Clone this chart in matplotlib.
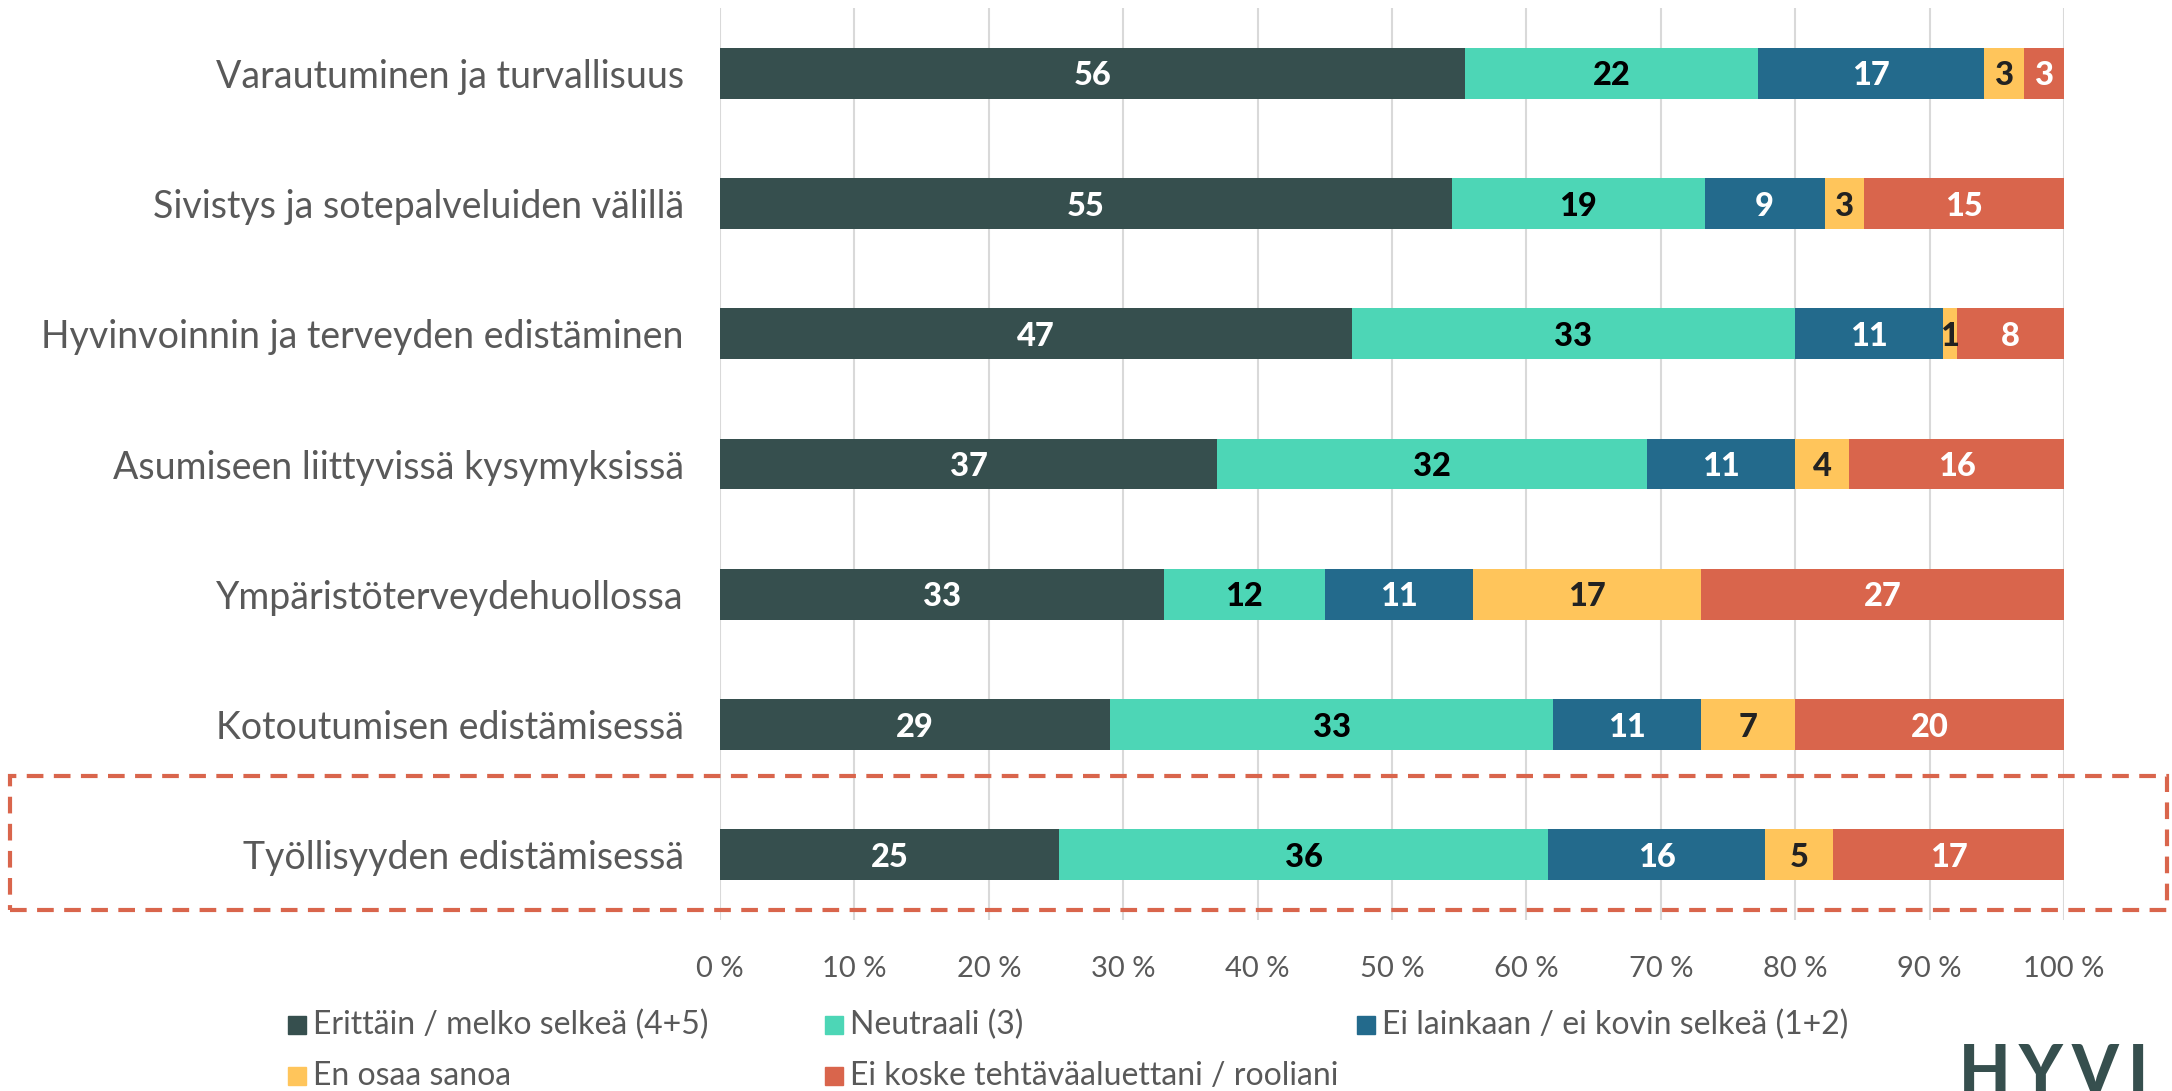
import matplotlib
matplotlib.use("Agg")
import matplotlib.pyplot as plt
from matplotlib.patches import Rectangle
import numpy as np

# categories top -> bottom
categories = [
    "Varautuminen ja turvallisuus",
    "Sivistys ja sotepalveluiden välillä",
    "Hyvinvoinnin ja terveyden edistäminen",
    "Asumiseen liittyvissä kysymyksissä",
    "Ympäristöterveydehuollossa",
    "Kotoutumisen edistämisessä",
    "Työllisyyden edistämisessä",
]

series_names = [
    "Erittäin / melko selkeä (4+5)",
    "Neutraali (3)",
    "Ei lainkaan / ei kovin selkeä (1+2)",
    "En osaa sanoa",
    "Ei koske tehtäväaluettani / rooliani",
]

selkea = [56, 55, 47, 37, 33, 29, 25]
neutraali = [22, 19, 33, 32, 12, 33, 36]
ei_selkea = [17, 9, 11, 11, 11, 11, 16]
eos = [3, 3, 1, 4, 17, 7, 5]
ei_koske = [3, 15, 8, 16, 27, 20, 17]

colors = ["#364F4E", "#4DD6B6", "#236A8C", "#FFC55B", "#D9654C"]
label_colors = ["white", "black", "white", "#222222", "white"]

ticks = np.arange(0, 101, 10)
tick_labels = [f"{t} %" for t in ticks]

text_gray = "#595959"
font = "Lato"

data = np.array([selkea, neutraali, ei_selkea, eos, ei_koske], dtype=float)
shares = data / data.sum(axis=0) * 100

fig = plt.figure(figsize=(21.72, 10.91), dpi=100)
ax = fig.add_axes([0.3315, 0.1567, 0.6188, 0.836])

y = np.arange(len(categories))
left = np.zeros(len(categories))
for k in range(len(series_names)):
    ax.barh(y, shares[k], left=left, height=0.39, color=colors[k], zorder=3)
    for i in range(len(categories)):
        ax.text(left[i] + shares[k][i] / 2, y[i] + 0.02, f"{int(data[k][i])}",
                ha="center", va="center", fontsize=23.5, fontweight="black",
                family=font, color=label_colors[k], zorder=4)
    left += shares[k]

ax.set_xlim(0, 100)
ax.set_ylim(len(categories) - 0.5, -0.5)
ax.set_xticks(ticks)
ax.set_xticklabels(tick_labels, fontsize=21, family=font, color=text_gray)
ax.set_yticks(y)
ax.set_yticklabels(categories, fontsize=27, family=font, color=text_gray)
ax.tick_params(axis="x", length=0, pad=26)
ax.tick_params(axis="y", length=0, pad=26)
ax.grid(axis="x", color="#D9D9D9", linewidth=1.5, zorder=0)
for s in ax.spines.values():
    s.set_visible(False)

# highlight box around last row
W, H = 2172, 1091
rect = Rectangle((10 / W, 1 - 910 / H), 2157 / W, 134 / H, transform=fig.transFigure,
                 fill=False, edgecolor="#D9654C", linewidth=3, linestyle=(0, (4, 2.5)),
                 clip_on=False)
fig.patches.append(rect)

# legend
leg_pos = [(288, 1025), (825, 1025), (1357, 1025), (288, 1076), (825, 1076)]
for k, (px, py) in enumerate(leg_pos):
    fig.patches.append(Rectangle((px / W, 1 - (py + 9) / H), 18 / W, 18 / H,
                                 transform=fig.transFigure, color=colors[k]))
    fig.text((px + 25) / W, 1 - py / H, series_names[k], ha="left", va="center",
             fontsize=23, family=font, color=text_gray)

# logo, cut off at the right edge like in the original
for ch, cx in zip("HYVI", [1985, 2041, 2095, 2138]):
    fig.text(cx / W, 1 - 1074 / H, ch, ha="center", va="center", fontsize=48,
             family=font, fontweight="black", color="#364F4E")

fig.savefig("out.png", dpi=100)
